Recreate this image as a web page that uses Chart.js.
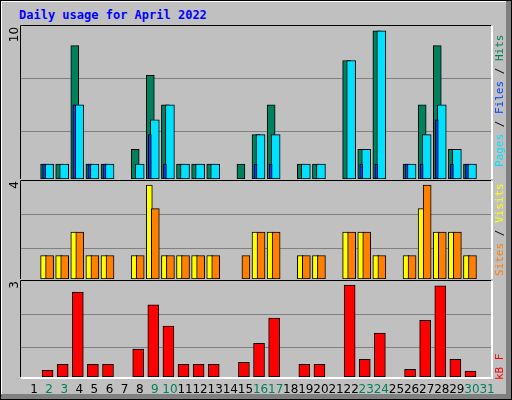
<!DOCTYPE html>
<html>
<head>
<meta charset="utf-8">
<script src="https://cdn.jsdelivr.net/npm/chart.js@4"></script>
<style>
  body { margin: 0; background: #fff; }
  #frame { position: relative; width: 510px; height: 398px; background: #c0c0c0; border: 1px solid #000; }
  #frame:before { content: ""; position: absolute; left: 0; top: 0; right: 5px; bottom: 5px; border-top: 1px solid #fff; border-left: 1px solid #fff; }
  #shadowR { position: absolute; right: 0; top: 0; width: 5px; height: 398px; background: #808080; }
  #shadowB { position: absolute; left: 0; bottom: 0; height: 5px; width: 510px; background: #808080; }
  #title { position: absolute; left: 18px; top: 7px; font: bold 12px "DejaVu Sans Mono", monospace; color: #0000ff; }
  canvas { position: absolute; left: 0; }
</style>
</head>
<body>
<div id="frame">
  <div id="shadowR"></div><div id="shadowB"></div>
  <div id="title">Daily usage for April 2022</div>
  <div style="position:absolute;left:0;top:22px;width:512px;height:156px"><canvas id="topChart"></canvas></div>
  <div style="position:absolute;left:0;top:177px;width:512px;height:101px"><canvas id="midChart"></canvas></div>
  <div style="position:absolute;left:0;top:277px;width:512px;height:121px"><canvas id="botChart"></canvas></div>
</div>
<script>
const days = Array.from({ length: 31 }, (_, i) => String(i + 1));
const weekendDays = [2, 3, 9, 10, 16, 17, 23, 24, 30, 31];

const hits  = [0,1,1,9,1,1,0,2,7,5,1,1,1,0,1,3,5,0,1,1,0,8,2,10,0,1,5,9,2,1,0];
const pages = [0,1,1,5,1,1,0,1,4,5,1,1,1,0,0,3,3,0,1,1,0,8,2,10,0,1,3,5,2,1,0];
const files = [0,1,0,5,1,1,0,0,3,1,0,0,0,0,0,1,1,0,0,0,0,0,1,1,0,1,1,4,1,1,0];

const visits = [0,1,1,2,1,1,0,1,4,1,1,1,1,0,0,2,2,0,1,1,0,2,2,1,0,1,3,2,2,1,0];
const sites  = [0,1,1,2,1,1,0,1,3,1,1,1,1,0,1,2,2,0,1,1,0,2,2,1,0,1,4,2,2,1,0];

const kbytes = [0,0.22,0.41,2.77,0.41,0.41,0,0.91,2.35,1.66,0.41,0.41,0.41,0,0.48,1.10,1.92,0,0.41,0.41,0,3.0,0.58,1.43,0,0.25,1.85,2.97,0.58,0.19,0];

const topMax = 10, midMax = 4, botMax = 3;

const DAY_PX = 15.1;
function pts(values, shiftPx) {
  return values.map((v, i) => ({ x: i + 1 + shiftPx / DAY_PX, y: v }));
}

function panelPlugin(maxLabel, legend, showDays) {
  return {
    id: 'panel',
    afterDraw(chart) {
      const { ctx, chartArea: a } = chart;
      const dpr = chart.currentDevicePixelRatio;
      ctx.save();
      ctx.strokeStyle = '#000';
      ctx.lineWidth = 1;
      ctx.beginPath();
      ctx.moveTo(a.left - 0.5, a.bottom); ctx.lineTo(a.left - 0.5, a.top - 0.5); ctx.lineTo(a.right, a.top - 0.5);
      ctx.stroke();
      ctx.strokeStyle = '#fff';
      ctx.lineWidth = 2;
      ctx.beginPath();
      ctx.moveTo(a.left, a.bottom + 1); ctx.lineTo(a.right + 1, a.bottom + 1); ctx.lineTo(a.right + 1, a.top);
      ctx.stroke();

      const yTop = chart.scales.y.getPixelForValue(maxLabel);
      ctx.font = '12px "DejaVu Sans", sans-serif';
      ctx.fillStyle = '#000';
      ctx.translate(14, yTop);
      ctx.rotate(-Math.PI / 2);
      ctx.textAlign = 'right';
      ctx.textBaseline = 'middle';
      ctx.fillText(String(maxLabel), 4, 0);
      ctx.setTransform(dpr, 0, 0, dpr, 0, 0);

      ctx.font = '11px "DejaVu Sans Mono", monospace';
      ctx.translate(499, a.top + 3);
      ctx.rotate(-Math.PI / 2);
      ctx.textAlign = 'left';
      let x = -legend.offset;
      legend.parts.forEach(p => {
        ctx.fillStyle = p.color;
        ctx.fillText(p.text, x, 0);
        x += ctx.measureText(p.text).width;
      });
      ctx.setTransform(dpr, 0, 0, dpr, 0, 0);

      if (showDays) {
        ctx.font = '12px "DejaVu Sans", sans-serif';
        ctx.textAlign = 'center';
        ctx.textBaseline = 'middle';
        days.forEach((d, i) => {
          ctx.fillStyle = weekendDays.includes(i + 1) ? '#00805c' : '#000';
          ctx.fillText(d, chart.scales.x.getPixelForValue(i + 1), a.bottom + 13);
        });
      }
      ctx.restore();
    }
  };
}

function makeChart(id, datasets, axisMax, label, legend, showDays, padBottom) {
  const yMax = axisMax * 96 / 92 * (id === 'topChart' ? 0.99 : 1);
  return new Chart(document.getElementById(id), {
    type: 'bar',
    data: { datasets },
    options: {
      responsive: true,
      maintainAspectRatio: false,
      animation: false,
      layout: { padding: { left: 20, right: 22, top: 3, bottom: padBottom } },
      plugins: { legend: { display: false }, tooltip: { enabled: false } },
      scales: {
        x: { type: 'linear', min: 0.14, max: 31.26, offset: false, display: false },
        y: {
          min: 0, max: yMax,
          border: { display: false },
          ticks: { display: false },
          grid: { color: '#808080', drawTicks: false, lineWidth: 1 },
          afterBuildTicks: s => { s.ticks = [{ value: yMax * 0.31 }, { value: yMax * 0.655 }]; }
        }
      }
    },
    plugins: [panelPlugin(label, legend, showDays)]
  });
}

const bar = (data, color, thickness, order) => ({
  data, backgroundColor: color, borderColor: '#000', borderWidth: 1,
  barThickness: thickness, grouped: false, order, borderSkipped: false
});

makeChart('topChart', [
  bar(pts(hits, -4.5), '#00805c', 8, 3),
  bar(pts(pages, 0), '#00e0ff', 9, 2),
  bar(pts(files, -5), '#0040ff', 3, 1)
], topMax, topMax, {
  offset: 138,
  parts: [
    { text: 'Pages', color: '#00e0ff' }, { text: ' / ', color: '#000' },
    { text: 'Files', color: '#0040ff' }, { text: ' / ', color: '#000' },
    { text: 'Hits', color: '#00805c' }
  ]
}, false, 0);

makeChart('midChart', [
  bar(pts(visits, -5.5), '#ffff00', 6, 2),
  bar(pts(sites, 0.5), '#ff8000', 8, 1)
], midMax, midMax, {
  offset: 92,
  parts: [
    { text: 'Sites', color: '#ff8000' }, { text: ' / ', color: '#000' },
    { text: 'Visits', color: '#ffff00' }
  ]
}, false, 0);

makeChart('botChart', [
  bar(pts(kbytes, -1.5), '#ff0000', 11, 1)
], botMax, botMax, {
  offset: 96,
  parts: [{ text: 'kB F', color: '#ff0000' }]
}, true, 22);
</script>
</body>
</html>
